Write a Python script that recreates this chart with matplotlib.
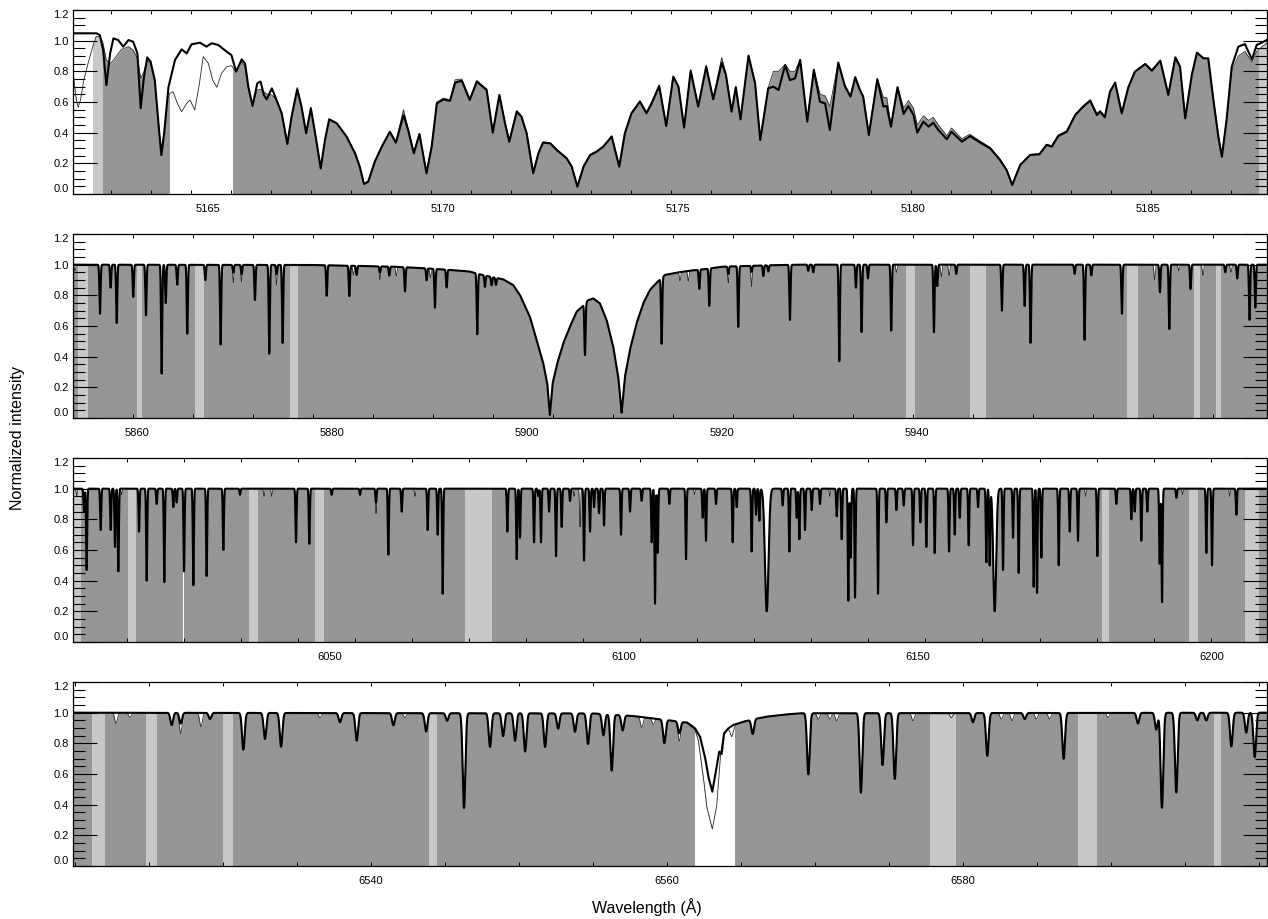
import numpy as np
import matplotlib
matplotlib.use("Agg")
import matplotlib.pyplot as plt
from matplotlib.ticker import FixedLocator, MultipleLocator

plt.rcParams['font.family'] = ['Liberation Sans', 'DejaVu Sans']

GRAY = '#969696'
LIGHT = '#c8c8c8'

# ---------------- Panel 1 (Mg b region) ----------------
p1_xlim = (5162.13, 5187.53)
p1_labels = [5165, 5170, 5175, 5180, 5185]
p1_model_wave = [5162.13, 5162.63, 5162.70, 5162.77, 5162.84, 5162.92, 5162.99, 5163.09, 5163.20, 5163.31,
                 5163.41, 5163.50, 5163.57, 5163.64, 5163.71, 5163.78, 5163.87, 5163.96, 5164.01, 5164.07,
                 5164.16, 5164.30, 5164.44, 5164.55, 5164.65, 5164.83, 5164.97, 5165.08, 5165.22, 5165.40,
                 5165.50, 5165.60, 5165.72, 5165.79, 5165.86, 5165.95, 5166.05, 5166.12, 5166.19, 5166.25,
                 5166.36, 5166.46, 5166.57, 5166.69, 5166.78, 5166.90, 5166.99, 5167.09, 5167.19, 5167.28,
                 5167.40, 5167.49, 5167.58, 5167.74, 5167.95, 5168.13, 5168.23, 5168.32, 5168.41, 5168.55,
                 5168.70, 5168.87, 5169.00, 5169.16, 5169.26, 5169.38, 5169.50, 5169.65, 5169.76, 5169.87,
                 5170.01, 5170.15, 5170.26, 5170.40, 5170.57, 5170.72, 5170.93, 5171.06, 5171.20, 5171.32,
                 5171.41, 5171.57, 5171.67, 5171.78, 5171.92, 5172.03, 5172.13, 5172.28, 5172.42, 5172.63,
                 5172.74, 5172.86, 5172.99, 5173.13, 5173.27, 5173.41, 5173.59, 5173.75, 5173.87, 5174.01,
                 5174.19, 5174.33, 5174.44, 5174.60, 5174.75, 5174.90, 5175.01, 5175.13, 5175.27, 5175.43,
                 5175.60, 5175.75, 5175.93, 5176.02, 5176.14, 5176.23, 5176.33, 5176.50, 5176.64, 5176.75,
                 5176.92, 5177.03, 5177.14, 5177.28, 5177.38, 5177.49, 5177.60, 5177.75, 5177.89, 5178.02,
                 5178.13, 5178.23, 5178.41, 5178.55, 5178.67, 5178.77, 5178.87, 5178.94, 5179.06, 5179.24,
                 5179.37, 5179.44, 5179.53, 5179.67, 5179.80, 5179.90, 5180.01, 5180.09, 5180.22, 5180.33,
                 5180.43, 5180.54, 5180.72, 5180.82, 5181.04, 5181.21, 5181.43, 5181.64, 5181.85, 5181.99,
                 5182.11, 5182.28, 5182.49, 5182.69, 5182.84, 5182.95, 5183.09, 5183.27, 5183.45, 5183.62,
                 5183.77, 5183.91, 5183.98, 5184.08, 5184.19, 5184.30, 5184.44, 5184.58, 5184.72, 5184.94,
                 5185.08, 5185.26, 5185.43, 5185.58, 5185.68, 5185.79, 5185.93, 5186.04, 5186.18, 5186.28,
                 5186.39, 5186.50, 5186.57, 5186.67, 5186.78, 5186.92, 5187.06, 5187.21, 5187.31, 5187.42,
                 5187.55]
p1_model_flux = [1.048, 1.048, 1.037, 0.940, 0.710, 0.917, 1.015, 1.004, 0.961, 1.004,
                 0.993, 0.917, 0.559, 0.765, 0.891, 0.863, 0.743, 0.417, 0.254, 0.396,
                 0.696, 0.874, 0.943, 0.917, 0.976, 0.987, 0.961, 0.983, 0.972, 0.928,
                 0.906, 0.798, 0.878, 0.852, 0.700, 0.574, 0.722, 0.733, 0.646, 0.617,
                 0.689, 0.613, 0.526, 0.326, 0.504, 0.683, 0.570, 0.396, 0.559, 0.396,
                 0.167, 0.352, 0.487, 0.461, 0.374, 0.265, 0.178, 0.065, 0.080, 0.211,
                 0.309, 0.406, 0.335, 0.515, 0.417, 0.265, 0.391, 0.135, 0.309, 0.591,
                 0.617, 0.607, 0.726, 0.739, 0.613, 0.733, 0.678, 0.400, 0.646, 0.461,
                 0.341, 0.537, 0.504, 0.396, 0.135, 0.265, 0.335, 0.330, 0.287, 0.233,
                 0.178, 0.048, 0.178, 0.254, 0.276, 0.309, 0.374, 0.178, 0.396, 0.526,
                 0.602, 0.526, 0.591, 0.704, 0.443, 0.765, 0.700, 0.433, 0.804, 0.570,
                 0.830, 0.617, 0.857, 0.776, 0.537, 0.696, 0.487, 0.902, 0.722, 0.352,
                 0.689, 0.700, 0.678, 0.841, 0.743, 0.754, 0.874, 0.472, 0.809, 0.602,
                 0.591, 0.417, 0.857, 0.704, 0.635, 0.761, 0.678, 0.635, 0.385, 0.748,
                 0.570, 0.574, 0.439, 0.696, 0.522, 0.574, 0.515, 0.400, 0.472, 0.439,
                 0.465, 0.417, 0.357, 0.406, 0.341, 0.378, 0.335, 0.298, 0.222, 0.157,
                 0.059, 0.189, 0.254, 0.259, 0.320, 0.309, 0.378, 0.406, 0.515, 0.570,
                 0.609, 0.515, 0.537, 0.500, 0.667, 0.726, 0.526, 0.696, 0.798, 0.848,
                 0.804, 0.870, 0.646, 0.891, 0.830, 0.493, 0.776, 0.922, 0.885, 0.885,
                 0.613, 0.363, 0.243, 0.483, 0.830, 0.961, 0.978, 0.878, 0.972, 0.987,
                 1.009]
p1_obs_wave = [5162.13, 5162.19, 5162.24, 5162.29, 5162.36, 5162.45, 5162.55, 5162.62, 5162.69, 5162.76,
               5162.84, 5162.92, 5163.02, 5163.16, 5163.31, 5163.41, 5163.50, 5163.57, 5163.64, 5163.71,
               5163.78, 5163.87, 5163.96, 5164.01, 5164.07, 5164.14, 5164.19, 5164.26, 5164.35, 5164.44,
               5164.55, 5164.62, 5164.72, 5164.82, 5164.90, 5165.01, 5165.10, 5165.19, 5165.29, 5165.40,
               5165.50, 5165.60, 5165.72, 5165.79, 5165.86, 5165.95, 5166.05, 5166.12, 5166.19, 5166.25,
               5166.36, 5166.46, 5166.57, 5166.69, 5166.78, 5166.90, 5166.99, 5167.09, 5167.19, 5167.28,
               5167.40, 5167.49, 5167.58, 5167.74, 5167.95, 5168.13, 5168.23, 5168.32, 5168.41, 5168.55,
               5168.70, 5168.87, 5169.00, 5169.16, 5169.26, 5169.38, 5169.50, 5169.65, 5169.76, 5169.87,
               5170.01, 5170.15, 5170.26, 5170.40, 5170.57, 5170.72, 5170.93, 5171.06, 5171.20, 5171.32,
               5171.41, 5171.57, 5171.67, 5171.78, 5171.92, 5172.03, 5172.13, 5172.28, 5172.42, 5172.63,
               5172.74, 5172.86, 5172.99, 5173.13, 5173.27, 5173.41, 5173.59, 5173.75, 5173.87, 5174.01,
               5174.19, 5174.33, 5174.44, 5174.60, 5174.75, 5174.90, 5175.01, 5175.13, 5175.27, 5175.43,
               5175.60, 5175.75, 5175.93, 5176.02, 5176.14, 5176.23, 5176.33, 5176.50, 5176.64, 5176.75,
               5176.92, 5177.03, 5177.14, 5177.28, 5177.38, 5177.49, 5177.60, 5177.75, 5177.89, 5178.02,
               5178.13, 5178.23, 5178.41, 5178.55, 5178.67, 5178.77, 5178.87, 5178.94, 5179.06, 5179.24,
               5179.37, 5179.44, 5179.53, 5179.67, 5179.80, 5179.90, 5180.01, 5180.09, 5180.22, 5180.33,
               5180.43, 5180.54, 5180.72, 5180.82, 5181.04, 5181.21, 5181.43, 5181.64, 5181.85, 5181.99,
               5182.11, 5182.28, 5182.49, 5182.69, 5182.84, 5182.95, 5183.09, 5183.27, 5183.45, 5183.62,
               5183.77, 5183.91, 5183.98, 5184.08, 5184.19, 5184.30, 5184.44, 5184.58, 5184.72, 5184.94,
               5185.08, 5185.26, 5185.43, 5185.58, 5185.68, 5185.79, 5185.93, 5186.04, 5186.18, 5186.28,
               5186.39, 5186.50, 5186.57, 5186.67, 5186.78, 5186.92, 5187.06, 5187.21, 5187.31, 5187.42,
               5187.55]
p1_obs_flux = [0.798, 0.635, 0.565, 0.613, 0.743, 0.852, 0.961, 1.026, 1.030, 0.993,
               0.874, 0.848, 0.885, 0.943, 0.961, 0.939, 0.885, 0.754, 0.798, 0.874,
               0.852, 0.733, 0.417, 0.287, 0.417, 0.613, 0.657, 0.667, 0.591, 0.537,
               0.591, 0.613, 0.548, 0.722, 0.896, 0.852, 0.743, 0.696, 0.787, 0.830,
               0.837, 0.798, 0.863, 0.830, 0.689, 0.574, 0.678, 0.683, 0.667, 0.652,
               0.646, 0.613, 0.526, 0.340, 0.510, 0.695, 0.575, 0.405, 0.565, 0.400,
               0.175, 0.355, 0.490, 0.465, 0.378, 0.270, 0.182, 0.070, 0.085, 0.215,
               0.312, 0.410, 0.340, 0.550, 0.425, 0.275, 0.395, 0.145, 0.315, 0.600,
               0.625, 0.615, 0.745, 0.750, 0.620, 0.740, 0.685, 0.410, 0.650, 0.470,
               0.350, 0.545, 0.510, 0.405, 0.145, 0.270, 0.340, 0.335, 0.292, 0.238,
               0.183, 0.055, 0.183, 0.258, 0.280, 0.312, 0.380, 0.185, 0.400, 0.530,
               0.610, 0.535, 0.600, 0.712, 0.450, 0.770, 0.705, 0.440, 0.810, 0.575,
               0.840, 0.622, 0.890, 0.785, 0.545, 0.700, 0.495, 0.905, 0.728, 0.360,
               0.695, 0.800, 0.800, 0.845, 0.800, 0.800, 0.880, 0.480, 0.815, 0.650,
               0.640, 0.570, 0.860, 0.710, 0.640, 0.765, 0.685, 0.640, 0.395, 0.752,
               0.630, 0.630, 0.450, 0.700, 0.560, 0.610, 0.560, 0.450, 0.510, 0.480,
               0.500, 0.450, 0.380, 0.430, 0.360, 0.390, 0.345, 0.305, 0.228, 0.160,
               0.065, 0.192, 0.258, 0.264, 0.325, 0.315, 0.385, 0.412, 0.520, 0.575,
               0.615, 0.525, 0.545, 0.510, 0.672, 0.730, 0.535, 0.700, 0.800, 0.850,
               0.810, 0.872, 0.655, 0.893, 0.835, 0.505, 0.780, 0.920, 0.885, 0.880,
               0.620, 0.375, 0.255, 0.490, 0.800, 0.900, 0.930, 0.860, 0.930, 0.960,
               0.990]
p1_gaps = [(5162.13, 5162.56), (5164.19, 5165.54)]
p1_bands = [(5162.56, 5162.76), (5187.35, 5187.56)]

# ---------------- Panel 2 (Na D region) ----------------
p2_xlim = (5853.44, 5975.90)
p2_labels = [5860, 5880, 5900, 5920, 5940]
p2_env_wave = [5853.44, 5878.0, 5886.3, 5889.7, 5893.1, 5894.15, 5895.18, 5896.20, 5897.57, 5898.59,
               5899.28, 5900.30, 5900.99, 5901.67, 5902.08, 5902.35, 5902.63, 5903.11, 5903.72, 5904.41,
               5905.09, 5905.60, 5906.29, 5906.80, 5907.48, 5908.17, 5908.85, 5909.36, 5909.71, 5910.05,
               5910.56, 5911.24, 5911.93, 5912.61, 5913.30, 5914.15, 5915.35, 5916.72, 5918.08, 5920.13,
               5922.18, 5924.92, 5928.0, 5975.90]
p2_env_flux = [1.0, 0.998, 0.987, 0.976, 0.961, 0.955, 0.937, 0.922, 0.904, 0.867,
               0.802, 0.661, 0.509, 0.357, 0.226, 0.02, 0.226, 0.357, 0.487, 0.596,
               0.693, 0.722, 0.769, 0.780, 0.748, 0.639, 0.465, 0.270, 0.035, 0.270,
               0.444, 0.617, 0.748, 0.835, 0.883, 0.933, 0.948, 0.961, 0.970, 0.987,
               0.991, 0.996, 1.0, 1.0]
p2_line_wave = [5856.21, 5857.30, 5857.92, 5859.62, 5860.92, 5862.53, 5862.95, 5864.13, 5865.16, 5867.01,
                5868.58, 5869.88, 5870.74, 5872.10, 5873.57, 5874.33, 5874.94, 5879.46, 5881.78, 5882.53,
                5884.92, 5885.88, 5887.49, 5889.71, 5890.56, 5891.76, 5894.90, 5895.69, 5896.37, 5896.82,
                5905.95, 5913.81, 5917.67, 5918.70, 5920.65, 5921.67, 5923.04, 5924.24, 5924.75, 5926.97,
                5928.85, 5929.36, 5932.03, 5933.74, 5934.32, 5934.97, 5937.36, 5941.74, 5942.08, 5944.03,
                5948.71, 5951.04, 5951.65, 5956.17, 5957.19, 5957.88, 5961.02, 5964.92, 5965.88, 5968.06,
                5971.62, 5972.85, 5974.11, 5974.70]
p2_line_depth = [0.32, 0.15, 0.38, 0.21, 0.33, 0.71, 0.25, 0.13, 0.45, 0.10,
                 0.52, 0.05, 0.06, 0.23, 0.58, 0.06, 0.51, 0.20, 0.20, 0.06,
                 0.04, 0.06, 0.16, 0.08, 0.26, 0.12, 0.42, 0.08, 0.06, 0.05,
                 0.45, 0.47, 0.13, 0.25, 0.05, 0.40, 0.04, 0.07, 0.04, 0.36,
                 0.04, 0.05, 0.63, 0.15, 0.44, 0.09, 0.43, 0.44, 0.14, 0.06,
                 0.30, 0.27, 0.51, 0.06, 0.49, 0.07, 0.32, 0.18, 0.42, 0.16,
                 0.05, 0.09, 0.36, 0.28]
p2_obs_wave = [5853.64, 5869.90, 5870.70, 5874.30, 5882.20, 5884.90, 5886.60, 5890.10, 5915.69, 5916.55,
               5920.65, 5923.04, 5937.90, 5942.50, 5943.30, 5964.37, 5966.85, 5969.33, 5972.20]
p2_obs_depth = [0.04, 0.07, 0.06, 0.08, 0.06, 0.05, 0.06, 0.06, 0.06, 0.07,
                0.06, 0.10, 0.05, 0.08, 0.07, 0.10, 0.04, 0.07, 0.05]
p2_gaps = []
p2_bands = [(5853.98, 5855.00), (5860.03, 5860.51), (5865.95, 5866.87), (5875.69, 5876.48),
            (5938.90, 5939.76), (5945.40, 5947.05), (5961.54, 5962.67), (5968.38, 5969.00),
            (5970.70, 5971.15)]

# ---------------- Panel 3 ----------------
p3_xlim = (6006.29, 6209.35)
p3_labels = [6050, 6100, 6150, 6200]
p3_line_wave = [6008.16, 6008.61, 6011.00, 6012.70, 6013.43, 6014.00, 6017.52, 6018.82, 6020.52, 6021.82,
                6023.35, 6023.92, 6025.17, 6026.76, 6029.02, 6031.86, 6034.69, 6044.22, 6046.48, 6050.28,
                6055.10, 6057.82, 6059.92, 6062.19, 6066.61, 6068.31, 6069.16,
                6080.16, 6081.75, 6082.31, 6084.70, 6085.43, 6085.88, 6087.25, 6088.44, 6089.40, 6090.82,
                6093.20, 6094.22, 6094.90, 6095.75, 6096.60, 6099.49, 6101.02, 6103.00, 6104.71, 6105.27,
                6105.73, 6107.71, 6110.55, 6113.38, 6113.94, 6115.65, 6118.48, 6119.16, 6121.71, 6122.45,
                6123.02, 6126.98, 6128.12, 6129.37, 6129.82, 6130.78, 6131.92, 6133.33, 6136.17,
                6137.02, 6138.15, 6138.55, 6139.29,
                6143.20, 6144.62, 6146.32, 6147.57, 6149.15, 6150.40, 6151.42, 6152.84, 6155.28, 6156.24,
                6157.09, 6158.62, 6160.21, 6161.62, 6162.19, 6164.46, 6166.16, 6167.12, 6169.67,
                6170.24, 6170.98, 6173.93, 6175.80, 6177.21, 6180.50, 6183.73, 6186.28, 6186.85, 6187.98,
                6189.00, 6191.10, 6191.50, 6193.94, 6199.04, 6200.00, 6204.14]
p3_line_depth = [0.15, 0.53, 0.27, 0.27, 0.38, 0.54, 0.28, 0.60, 0.10, 0.61,
                 0.12, 0.09, 0.54, 0.63, 0.57, 0.40, 0.04, 0.35, 0.36, 0.04,
                 0.04, 0.09, 0.43, 0.15, 0.27, 0.30, 0.685,
                 0.28, 0.46, 0.32, 0.35, 0.05, 0.35, 0.15, 0.44, 0.25, 0.08,
                 0.47, 0.28, 0.12, 0.16, 0.24, 0.30, 0.15, 0.08, 0.35, 0.75,
                 0.42, 0.10, 0.46, 0.19, 0.34, 0.10, 0.35, 0.12, 0.41, 0.17,
                 0.21, 0.11, 0.41, 0.19, 0.33, 0.27, 0.14, 0.10, 0.18,
                 0.33, 0.73, 0.45, 0.71,
                 0.685, 0.22, 0.14, 0.11, 0.37, 0.22, 0.38, 0.42, 0.41, 0.30,
                 0.19, 0.37, 0.12, 0.48, 0.50, 0.53, 0.32, 0.55, 0.64,
                 0.68, 0.45, 0.50, 0.28, 0.34, 0.44, 0.10, 0.20, 0.15, 0.34,
                 0.15, 0.49, 0.74, 0.06, 0.42, 0.50, 0.17]
p3_broad_wave = [6124.27, 6163.04]
p3_broad_depth = [0.80, 0.80]
p3_broad_sigma = [0.30, 0.25]
p3_obs_wave = [6006.90, 6014.57, 6038.77, 6040.08, 6057.82, 6064.45, 6091.50, 6092.52, 6112.0, 6135.0,
               6178.5, 6195.0, 6203.0]
p3_obs_depth = [0.05, 0.04, 0.05, 0.05, 0.08, 0.05, 0.05, 0.25, 0.04, 0.05,
                0.05, 0.04, 0.05]
p3_gaps = [(6024.95, 6025.20)]
p3_bands = [(6006.30, 6007.60), (6015.70, 6017.00), (6036.28, 6037.81), (6047.45, 6048.98),
            (6072.96, 6077.50), (6181.30, 6182.43), (6196.09, 6197.62), (6205.56, 6207.94)]

# ---------------- Panel 4 (H-alpha region) ----------------
p4_xlim = (6519.86, 6600.54)
p4_labels = [6540, 6560, 6580]
p4_env_model_wave = [6519.86, 6555.00, 6557.72, 6559.97, 6560.88, 6561.37, 6561.89, 6562.23, 6562.56, 6562.79,
                     6563.06, 6563.35, 6563.53, 6563.69, 6563.85, 6564.14, 6564.48, 6565.15, 6565.83, 6566.73,
                     6568.08, 6568.98, 6600.54]
p4_env_model_flux = [1.0, 0.995, 0.978, 0.952, 0.941, 0.935, 0.898, 0.843, 0.713, 0.583,
                     0.485, 0.648, 0.746, 0.730, 0.865, 0.898, 0.920, 0.941, 0.957, 0.974,
                     0.989, 0.996, 1.0]
p4_env_obs_wave = [6519.86, 6555.00, 6557.72, 6559.97, 6560.88, 6561.37, 6561.89, 6562.11, 6562.45, 6562.68,
                   6563.06, 6563.35, 6563.51, 6563.62, 6563.80, 6564.03, 6564.37, 6564.70, 6565.15, 6565.83,
                   6566.73, 6568.08, 6568.98, 6600.54]
p4_env_obs_flux = [1.0, 0.995, 0.978, 0.952, 0.941, 0.935, 0.887, 0.822, 0.583, 0.387,
                   0.241, 0.387, 0.583, 0.735, 0.843, 0.887, 0.898, 0.920, 0.941, 0.957,
                   0.974, 0.989, 0.996, 1.0]
p4_line_wave = [6526.53, 6527.14, 6529.12, 6531.37, 6532.83, 6533.92, 6537.90, 6539.03, 6541.51,
                6543.72, 6545.14, 6546.28, 6548.04, 6548.92, 6549.73, 6550.41, 6551.76, 6552.64, 6553.78,
                6554.66, 6555.70, 6556.26, 6557.00, 6559.82, 6560.83, 6565.79, 6569.55, 6573.10, 6574.56,
                6575.39, 6580.67, 6581.64, 6584.17, 6586.80, 6591.82, 6593.06, 6593.44, 6594.41, 6595.83,
                6596.44, 6598.13, 6599.14, 6599.71]
p4_line_depth = [0.08, 0.07, 0.04, 0.24, 0.17, 0.22, 0.06, 0.18, 0.08,
                 0.12, 0.05, 0.62, 0.22, 0.15, 0.18, 0.25, 0.22, 0.10, 0.12,
                 0.20, 0.14, 0.37, 0.10, 0.16, 0.08, 0.10, 0.40, 0.52, 0.34,
                 0.43, 0.06, 0.28, 0.04, 0.30, 0.07, 0.11, 0.62, 0.52, 0.05,
                 0.05, 0.22, 0.13, 0.29]
p4_obs_wave = [6522.77, 6523.71, 6527.14, 6528.51, 6536.55, 6542.29, 6558.29, 6559.07, 6560.83, 6564.37,
               6570.22, 6571.00, 6571.46, 6576.62, 6579.21, 6582.59, 6583.31, 6584.95, 6585.85, 6589.80]
p4_obs_depth = [0.07, 0.03, 0.07, 0.09, 0.03, 0.03, 0.07, 0.04, 0.06, 0.06,
                0.04, 0.04, 0.05, 0.05, 0.03, 0.04, 0.05, 0.04, 0.04, 0.03]
p4_gaps = [(6561.89, 6564.59)]
p4_bands = [(6521.13, 6522.03), (6524.78, 6525.52), (6530.00, 6530.66), (6543.92, 6544.46),
            (6577.75, 6579.55), (6587.80, 6589.05), (6596.94, 6597.45)]


def absorb(grid, flux, centers, depths, sigma):
    f = flux.copy()
    sig = np.broadcast_to(np.asarray(sigma, dtype=float), (len(centers),))
    for c, d, s in zip(centers, depths, sig):
        m = np.abs(grid - c) < 6 * s
        f[m] *= 1.0 - d * np.exp(-0.5 * ((grid[m] - c) / s) ** 2)
    return f


def draw_panel(ax, w_obs, f_obs, w_mod, f_mod, gaps, bands, xlim, labels, tick_start, tick_step):
    base = ax.fill_between(w_obs, 0, f_obs, color=GRAY, lw=0, zorder=1)
    path = base.get_paths()[0]
    for a, b in bands:
        r = ax.axvspan(a, b, color=LIGHT, lw=0, zorder=1.1)
        r.set_clip_path(path, ax.transData)
    for a, b in gaps:
        r = ax.axvspan(a, b, color='white', lw=0, zorder=1.2)
        r.set_clip_path(path, ax.transData)
    ax.plot(w_obs, f_obs, color='#2a2a2a', lw=0.6, zorder=2.0)
    ax.plot(w_mod, f_mod, color='black', lw=1.5, zorder=2.2, solid_joinstyle='round')
    ax.set_xlim(*xlim)
    ax.set_ylim(0, 1.2)
    ax.set_xticks(labels)
    ax.set_xticklabels([str(v) for v in labels])
    ticks = tick_start + tick_step * np.arange(-3, 200)
    ticks = ticks[(ticks > xlim[0] + 1e-6) & (ticks < xlim[1] - 1e-6)]
    ax.xaxis.set_minor_locator(FixedLocator(ticks))
    ax.xaxis.remove_overlapping_locs = False
    yv = np.arange(0, 1.21, 0.2)
    ax.set_yticks(yv)
    ylabs = ax.set_yticklabels(['%.1f' % v for v in yv])
    ylabs[0].set_verticalalignment('bottom')
    ylabs[-1].set_verticalalignment('top')
    ax.yaxis.set_minor_locator(MultipleLocator(0.05))
    ax.tick_params(axis='x', which='major', length=0, pad=7, labelsize=8)
    ax.tick_params(axis='x', which='minor', direction='in', length=3, width=0.7, top=True, bottom=True)
    ax.tick_params(axis='y', which='major', direction='in', length=17, width=0.8, left=True, right=True,
                   labelsize=8, pad=3)
    ax.tick_params(axis='y', which='minor', direction='in', length=8.5, width=0.8, left=True, right=True)
    for s in ax.spines.values():
        s.set_linewidth(0.9)


fig = plt.figure(figsize=(12.68, 9.19), dpi=100)
W = 1268.0
H = 919.0
left = 73 / W
width = 1194 / W
height = 184 / H
bottoms_px = [194, 418, 642, 866]
axes = [fig.add_axes([left, 1 - b / H, width, height]) for b in bottoms_px]

# Panel 1
draw_panel(axes[0], np.array(p1_obs_wave), np.array(p1_obs_flux),
           np.array(p1_model_wave), np.array(p1_model_flux),
           p1_gaps, p1_bands, p1_xlim, p1_labels, 5162.93, 40 / 47)

# Panel 2
g2 = np.arange(p2_xlim[0], p2_xlim[1] + 0.005, 0.005)
env2 = np.interp(g2, p2_env_wave, p2_env_flux)
m2 = absorb(g2, env2, p2_line_wave, p2_line_depth, 0.06)
o2 = absorb(g2, m2, p2_obs_wave, p2_obs_depth, 0.07)
draw_panel(axes[1], g2, o2, g2, m2, p2_gaps, p2_bands, p2_xlim, p2_labels, 5859.56, 60 / 9.75)

# Panel 3
g3 = np.arange(p3_xlim[0], p3_xlim[1] + 0.01, 0.01)
m3 = absorb(g3, np.ones_like(g3), p3_line_wave, p3_line_depth, 0.09)
m3 = absorb(g3, m3, p3_broad_wave, p3_broad_depth, p3_broad_sigma)
o3 = absorb(g3, m3, p3_obs_wave, p3_obs_depth, 0.09)
draw_panel(axes[2], g3, o3, g3, m3, p3_gaps, p3_bands, p3_xlim, p3_labels, 6015.43, 57.05 / 5.88)

# Panel 4
g4 = np.arange(p4_xlim[0], p4_xlim[1] + 0.005, 0.005)
env4m = np.interp(g4, p4_env_model_wave, p4_env_model_flux)
env4o = np.interp(g4, p4_env_obs_wave, p4_env_obs_flux)
m4 = absorb(g4, env4m, p4_line_wave, p4_line_depth, 0.09)
o4 = absorb(g4, env4o, p4_line_wave, p4_line_depth, 0.09)
o4 = absorb(g4, o4, p4_obs_wave, p4_obs_depth, 0.09)
draw_panel(axes[3], g4, o4, g4, m4, p4_gaps, p4_bands, p4_xlim, p4_labels, 6525.0, 5.0)

fig.text(647 / W, 1 - 907 / H, 'Wavelength (Å)', ha='center', va='center', fontsize=11.5)
fig.text(18 / W, 1 - 438 / H, 'Normalized intensity', ha='center', va='center', rotation=90, fontsize=11.5)

fig.savefig('out.png', dpi=100)
